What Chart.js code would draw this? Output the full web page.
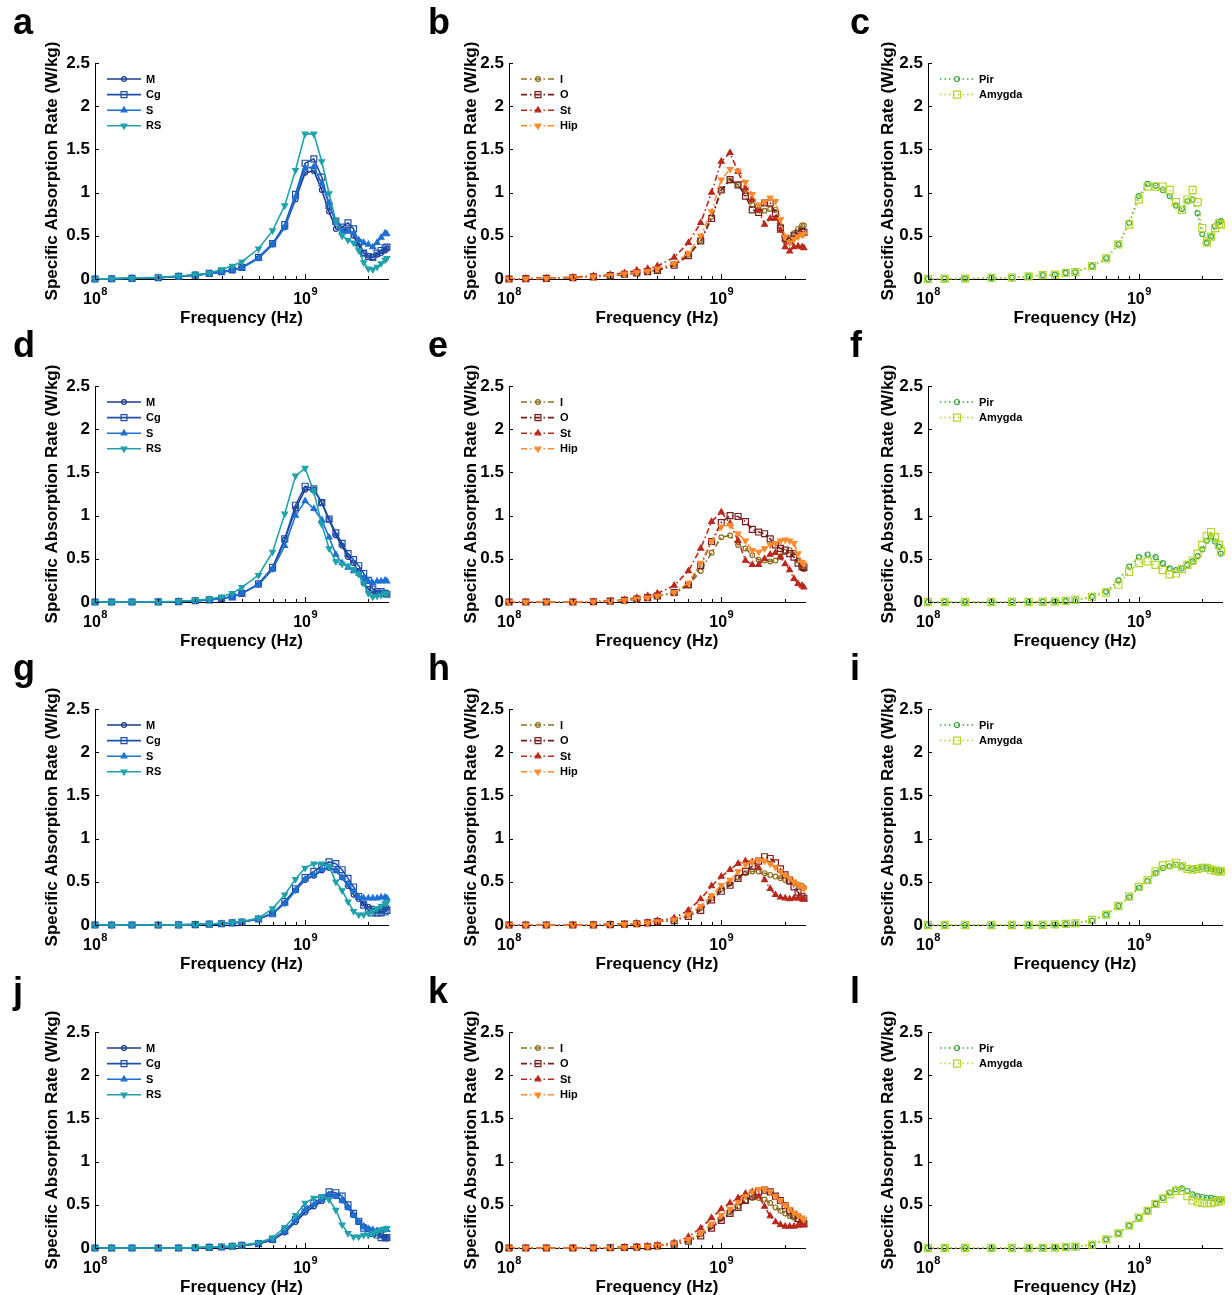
<!DOCTYPE html>
<html><head><meta charset="utf-8">
<script src="https://cdn.jsdelivr.net/npm/chart.js@4.4.0/dist/chart.umd.min.js"></script>
<style>
html,body{margin:0;padding:0;background:#fff;}
body{width:1232px;height:1295px;overflow:hidden;position:relative;}
canvas{position:absolute;}
</style>
</head><body>
<script>
// ---------------- data ----------------
const freqGHz = [0.1,0.12,0.15,0.2,0.25,0.3,0.35,0.4,0.45,0.5,0.6,0.7,0.8,0.9,1.0,1.1,1.2,1.3,1.4,1.5,1.6,1.7,1.8,1.9,2.0,2.1,2.2,2.3,2.4,2.45];
const yTicks = [0,0.5,1,1.5,2,2.5];
const xDecades = [1e8,1e9];
const xMinorTicks = [2e8,3e8,4e8,5e8,6e8,7e8,8e8,9e8,2e9];
const namesA = ['M','Cg','S','RS'];
const namesB = ['I','O','St','Hip'];
const namesC = ['Pir','Amygda'];
const panelLetters = ['a','b','c','d','e','f','g','h','i','j','k','l'];
const yTitle = 'Specific Absorption Rate (W/kg)';
const xTitle = 'Frequency (Hz)';

const a_M  = [0,0.003,0.008,0.015,0.03,0.045,0.06,0.08,0.1,0.13,0.24,0.4,0.6,0.92,1.23,1.25,1.03,0.78,0.58,0.57,0.57,0.5,0.38,0.3,0.27,0.25,0.28,0.3,0.33,0.35];
const a_Cg = [0,0.003,0.008,0.015,0.03,0.045,0.065,0.085,0.105,0.135,0.25,0.41,0.63,0.98,1.34,1.39,1.18,0.85,0.67,0.6,0.65,0.58,0.42,0.3,0.26,0.25,0.3,0.33,0.36,0.37];
const a_S  = [0,0.003,0.008,0.015,0.03,0.045,0.06,0.08,0.1,0.13,0.24,0.4,0.6,0.95,1.28,1.3,1.1,0.88,0.65,0.55,0.55,0.52,0.45,0.42,0.4,0.37,0.42,0.48,0.53,0.52];
const a_RS = [0,0.004,0.01,0.02,0.035,0.05,0.07,0.11,0.15,0.2,0.35,0.56,0.85,1.26,1.68,1.68,1.36,0.99,0.67,0.5,0.45,0.42,0.33,0.19,0.12,0.11,0.14,0.18,0.22,0.24];

const b_I   = [0,0.004,0.008,0.015,0.025,0.04,0.055,0.07,0.085,0.1,0.17,0.28,0.45,0.72,1.03,1.14,1.09,0.99,0.86,0.81,0.79,0.81,0.8,0.61,0.45,0.47,0.53,0.58,0.62,0.62];
const b_O   = [0,0.004,0.008,0.015,0.025,0.04,0.055,0.07,0.085,0.1,0.16,0.27,0.44,0.7,1.03,1.15,1.09,0.96,0.8,0.77,0.88,0.88,0.76,0.59,0.47,0.44,0.5,0.53,0.55,0.54];
const b_St  = [0,0.005,0.01,0.02,0.035,0.05,0.07,0.1,0.12,0.15,0.25,0.42,0.65,1.0,1.36,1.46,1.24,1.05,0.92,0.8,0.63,0.7,0.7,0.56,0.37,0.32,0.37,0.38,0.37,0.36];
const b_Hip = [0,0.004,0.008,0.015,0.025,0.04,0.06,0.075,0.09,0.12,0.18,0.3,0.5,0.78,1.15,1.27,1.25,1.12,0.98,0.86,0.89,0.94,0.9,0.69,0.49,0.42,0.46,0.49,0.51,0.52];

const c_Pir    = [0,0.003,0.005,0.012,0.015,0.03,0.045,0.05,0.07,0.08,0.15,0.24,0.4,0.65,0.96,1.1,1.08,1.03,0.96,0.85,0.81,0.9,0.92,0.76,0.52,0.42,0.49,0.61,0.66,0.67];
const c_Amygda = [0,0.003,0.005,0.012,0.015,0.03,0.045,0.05,0.07,0.08,0.15,0.24,0.4,0.63,0.92,1.07,1.07,1.07,1.03,0.89,0.8,0.92,1.03,0.89,0.59,0.42,0.49,0.59,0.64,0.63];

const d_M  = [0,0,0,0.002,0.005,0.015,0.025,0.04,0.06,0.1,0.2,0.38,0.72,1.08,1.3,1.3,1.15,0.95,0.77,0.65,0.52,0.45,0.35,0.22,0.15,0.1,0.1,0.1,0.1,0.1];
const d_Cg = [0,0,0,0.002,0.005,0.015,0.025,0.04,0.06,0.1,0.21,0.4,0.73,1.12,1.34,1.31,1.15,0.96,0.8,0.68,0.56,0.49,0.42,0.33,0.25,0.15,0.12,0.12,0.1,0.09];
const d_S  = [0,0,0,0.002,0.005,0.015,0.025,0.04,0.06,0.1,0.2,0.38,0.65,1.0,1.17,1.08,0.95,0.75,0.55,0.45,0.4,0.36,0.33,0.28,0.24,0.22,0.24,0.24,0.25,0.24];
const d_RS = [0,0,0,0.003,0.008,0.02,0.035,0.06,0.1,0.17,0.31,0.58,1.02,1.46,1.55,1.28,0.9,0.62,0.47,0.44,0.42,0.38,0.32,0.22,0.1,0.06,0.07,0.08,0.1,0.1];

const e_I   = [0,0,0,0,0.003,0.01,0.02,0.035,0.05,0.07,0.1,0.19,0.36,0.57,0.75,0.77,0.66,0.62,0.54,0.49,0.48,0.47,0.48,0.52,0.58,0.6,0.57,0.48,0.41,0.38];
const e_O   = [0,0,0,0,0.003,0.01,0.02,0.035,0.05,0.07,0.11,0.2,0.42,0.7,0.92,1.0,0.99,0.93,0.84,0.81,0.79,0.73,0.66,0.62,0.6,0.56,0.52,0.45,0.41,0.4];
const e_St  = [0,0,0,0,0.003,0.01,0.025,0.05,0.07,0.1,0.19,0.36,0.62,0.93,1.04,0.91,0.71,0.48,0.43,0.43,0.5,0.55,0.57,0.52,0.44,0.37,0.27,0.21,0.19,0.17];
const e_Hip = [0,0,0,0,0.003,0.01,0.02,0.035,0.05,0.07,0.11,0.22,0.45,0.7,0.87,0.89,0.79,0.71,0.6,0.58,0.62,0.66,0.68,0.71,0.72,0.71,0.68,0.56,0.46,0.44];

const f_Pir    = [0,0,0,0,0,0,0.003,0.005,0.01,0.02,0.06,0.12,0.25,0.41,0.52,0.55,0.52,0.45,0.39,0.37,0.39,0.43,0.47,0.53,0.61,0.71,0.75,0.7,0.64,0.56];
const f_Amygda = [0,0,0,0,0,0,0.003,0.005,0.012,0.025,0.06,0.11,0.2,0.35,0.45,0.47,0.43,0.37,0.32,0.33,0.38,0.43,0.48,0.56,0.66,0.76,0.81,0.75,0.66,0.59];

const g_M  = [0,0,0,0,0.002,0.005,0.01,0.015,0.025,0.035,0.07,0.14,0.25,0.4,0.52,0.57,0.63,0.66,0.63,0.55,0.45,0.35,0.3,0.25,0.21,0.19,0.18,0.18,0.19,0.2];
const g_Cg = [0,0,0,0,0.002,0.005,0.01,0.015,0.025,0.035,0.07,0.13,0.27,0.42,0.55,0.62,0.68,0.73,0.71,0.64,0.54,0.44,0.33,0.23,0.17,0.14,0.14,0.14,0.15,0.17];
const g_S  = [0,0,0,0,0.002,0.005,0.01,0.015,0.025,0.035,0.07,0.13,0.25,0.4,0.53,0.58,0.64,0.67,0.63,0.55,0.47,0.39,0.32,0.31,0.31,0.31,0.31,0.32,0.32,0.31];
const g_RS = [0,0,0,0,0.002,0.006,0.012,0.02,0.03,0.04,0.08,0.19,0.35,0.53,0.66,0.71,0.71,0.68,0.5,0.4,0.27,0.16,0.12,0.12,0.14,0.16,0.19,0.22,0.25,0.26];

const h_I   = [0,0,0,0,0.002,0.005,0.01,0.015,0.025,0.04,0.06,0.12,0.2,0.31,0.42,0.48,0.55,0.6,0.62,0.62,0.6,0.58,0.56,0.54,0.52,0.5,0.49,0.47,0.45,0.43];
const h_O   = [0,0,0,0,0.002,0.005,0.01,0.015,0.025,0.04,0.05,0.1,0.17,0.29,0.39,0.46,0.54,0.62,0.68,0.74,0.79,0.77,0.72,0.65,0.58,0.51,0.44,0.38,0.33,0.31];
const h_St  = [0,0,0,0,0.002,0.005,0.01,0.02,0.03,0.05,0.08,0.17,0.3,0.45,0.56,0.64,0.71,0.74,0.73,0.66,0.52,0.42,0.35,0.32,0.31,0.3,0.31,0.31,0.3,0.3];
const h_Hip = [0,0,0,0,0.002,0.005,0.01,0.015,0.025,0.04,0.06,0.12,0.22,0.34,0.46,0.52,0.62,0.7,0.73,0.75,0.74,0.71,0.67,0.62,0.58,0.54,0.5,0.47,0.44,0.42];

const i_Pir    = [0,0,0,0,0,0,0.002,0.005,0.01,0.02,0.05,0.12,0.22,0.32,0.43,0.51,0.6,0.66,0.68,0.7,0.68,0.66,0.65,0.66,0.67,0.66,0.65,0.64,0.63,0.63];
const i_Amygda = [0,0,0,0,0,0,0.003,0.006,0.012,0.02,0.06,0.12,0.22,0.33,0.44,0.52,0.62,0.69,0.7,0.72,0.68,0.65,0.64,0.65,0.66,0.66,0.64,0.63,0.62,0.62];

const j_M  = [0,0,0,0,0,0.003,0.008,0.012,0.02,0.03,0.05,0.09,0.18,0.3,0.41,0.48,0.54,0.6,0.6,0.55,0.47,0.38,0.3,0.25,0.22,0.2,0.19,0.16,0.12,0.11];
const j_Cg = [0,0,0,0,0,0.003,0.008,0.012,0.02,0.03,0.05,0.1,0.2,0.33,0.45,0.52,0.57,0.65,0.64,0.6,0.5,0.4,0.31,0.23,0.19,0.17,0.15,0.12,0.12,0.12];
const j_S  = [0,0,0,0,0,0.003,0.008,0.012,0.02,0.03,0.05,0.1,0.19,0.32,0.44,0.5,0.56,0.61,0.6,0.55,0.47,0.38,0.3,0.25,0.22,0.21,0.2,0.2,0.21,0.21];
const j_RS = [0,0,0,0,0,0.004,0.01,0.015,0.025,0.035,0.06,0.12,0.24,0.38,0.52,0.58,0.6,0.56,0.44,0.27,0.17,0.13,0.13,0.15,0.15,0.17,0.19,0.21,0.22,0.23];

const k_I   = [0,0,0,0,0,0.003,0.006,0.01,0.015,0.025,0.05,0.09,0.16,0.25,0.34,0.41,0.48,0.55,0.58,0.58,0.56,0.52,0.47,0.43,0.4,0.37,0.35,0.33,0.31,0.3];
const k_O   = [0,0,0,0,0,0.003,0.006,0.01,0.015,0.025,0.045,0.08,0.14,0.23,0.32,0.4,0.47,0.55,0.6,0.65,0.67,0.65,0.6,0.55,0.49,0.43,0.38,0.34,0.3,0.28];
const k_St  = [0,0,0,0,0,0.004,0.008,0.012,0.02,0.03,0.06,0.13,0.23,0.35,0.45,0.52,0.58,0.63,0.65,0.6,0.48,0.37,0.3,0.27,0.25,0.25,0.25,0.26,0.27,0.27];
const k_Hip = [0,0,0,0,0,0.003,0.006,0.01,0.015,0.025,0.05,0.1,0.17,0.28,0.38,0.45,0.53,0.6,0.65,0.68,0.68,0.65,0.6,0.55,0.5,0.45,0.41,0.38,0.35,0.33];

const l_Pir    = [0,0,0,0,0,0,0.002,0.005,0.01,0.015,0.04,0.1,0.17,0.26,0.35,0.43,0.51,0.58,0.64,0.68,0.69,0.66,0.62,0.6,0.59,0.58,0.58,0.57,0.56,0.56];
const l_Amygda = [0,0,0,0,0,0,0.002,0.005,0.01,0.015,0.04,0.1,0.17,0.26,0.35,0.43,0.51,0.57,0.62,0.66,0.66,0.6,0.55,0.53,0.52,0.52,0.52,0.53,0.54,0.55];

// ---------------- styles & layout ----------------
const FONT = '"Liberation Sans", Arial, sans-serif';
const styleGroups = {
  A: { names: namesA, colors: ['#1b3a8e','#1d4fa8','#1e70d4','#1fa2ab'], dash: [], width: 1.6,
       points: [{s:'circle',r:2.4,rot:0,fill:false},{s:'rect',r:4.2,rot:0,fill:false},{s:'triangle',r:3.3,rot:0,fill:true},{s:'triangle',r:3.3,rot:180,fill:true}] },
  B: { names: namesB, colors: ['#8c6e1e','#7a1c1c','#b9281b','#ff8a2c'], dash: [6,3,1.5,3], width: 1.6,
       points: [{s:'circle',r:2.4,rot:0,fill:false},{s:'rect',r:4.2,rot:0,fill:false},{s:'triangle',r:3.3,rot:0,fill:true},{s:'triangle',r:3.3,rot:180,fill:true}] },
  C: { names: namesC, colors: ['#3aa83a','#b5d42c'], dash: [1.5,3], width: 1.5,
       points: [{s:'circle',r:2.5,rot:0,fill:false},{s:'rect',r:5,rot:0,fill:false}] }
};
const panels = [
  {g:'A', series:[a_M,a_Cg,a_S,a_RS]}, {g:'B', series:[b_I,b_O,b_St,b_Hip]}, {g:'C', series:[c_Pir,c_Amygda]},
  {g:'A', series:[d_M,d_Cg,d_S,d_RS]}, {g:'B', series:[e_I,e_O,e_St,e_Hip]}, {g:'C', series:[f_Pir,f_Amygda]},
  {g:'A', series:[g_M,g_Cg,g_S,g_RS]}, {g:'B', series:[h_I,h_O,h_St,h_Hip]}, {g:'C', series:[i_Pir,i_Amygda]},
  {g:'A', series:[j_M,j_Cg,j_S,j_RS]}, {g:'B', series:[k_I,k_O,k_St,k_Hip]}, {g:'C', series:[l_Pir,l_Amygda]}
];
const colX = [0,410,820], colW = [410,410,412];
const rowY = [0,323,646,969];
const CH = 335;
const plotLeft = [95,99,108], plotRight = [388,395,402];
const plotTop = 63, plotBottom = 279;
const yTitleCenter = [52.7,61.7,68.3];
const letterX = [13,18,30];

function drawMarker(ctx, p, x, y, color, lw) {
  ctx.beginPath();
  if (p.s === 'circle') {
    ctx.arc(x, y, p.r, 0, Math.PI*2);
  } else if (p.s === 'rect') {
    const h = p.r*Math.SQRT1_2;
    ctx.rect(x-h, y-h, 2*h, 2*h);
  } else {
    let rad = p.rot*Math.PI/180;
    for (let k=0;k<3;k++) {
      const px = x + Math.sin(rad)*p.r, py = y - Math.cos(rad)*p.r;
      if (k===0) ctx.moveTo(px,py); else ctx.lineTo(px,py);
      rad += 2*Math.PI/3;
    }
    ctx.closePath();
  }
  if (p.fill) { ctx.fillStyle = color; ctx.fill(); }
  ctx.strokeStyle = color; ctx.lineWidth = lw; ctx.setLineDash([]); ctx.stroke();
}

const decor = {
  id: 'decor',
  afterDraw(chart, args, opts) {
    const {ctx, chartArea, scales} = chart;
    const {left, top, bottom} = chartArea;
    const x = scales.x, y = scales.y;
    ctx.save();
    // inward ticks
    ctx.strokeStyle = '#000'; ctx.lineWidth = 1; ctx.setLineDash([]);
    ctx.beginPath();
    yTicks.forEach(v => { const py = Math.round(y.getPixelForValue(v)) + 0.5; ctx.moveTo(left, py); ctx.lineTo(left + 4, py); });
    xMinorTicks.forEach(v => { const px = Math.round(x.getPixelForValue(v)) + 0.5; ctx.moveTo(px, bottom); ctx.lineTo(px, bottom - 3); });
    xDecades.forEach(v => { const px = Math.round(x.getPixelForValue(v)) + 0.5; ctx.moveTo(px, bottom); ctx.lineTo(px, bottom - 5); });
    ctx.stroke();
    // decade labels 10^n
    ctx.fillStyle = '#000'; ctx.textBaseline = 'alphabetic'; ctx.textAlign = 'left';
    xDecades.forEach(v => {
      const px = x.getPixelForValue(v);
      const base = '10', exp = String(Math.round(Math.log10(v)));
      ctx.font = 'bold 16px ' + FONT; const w1 = ctx.measureText(base).width;
      ctx.font = 'bold 11px ' + FONT; const w2 = ctx.measureText(exp).width;
      const sx = px - (w1 + w2) / 2;
      ctx.font = 'bold 16px ' + FONT; ctx.fillText(base, sx, bottom + 25);
      ctx.font = 'bold 11px ' + FONT; ctx.fillText(exp, sx + w1 + 0.5, bottom + 16);
    });
    // panel letter
    ctx.font = 'bold 36px ' + FONT;
    ctx.fillText(opts.letter, opts.lx, 34);
    // legend
    const st = styleGroups[opts.group];
    chart.data.datasets.forEach((ds, i) => {
      const ly = top + 16 + 15.6 * i;
      ctx.beginPath();
      ctx.strokeStyle = st.colors[i]; ctx.lineWidth = st.width; ctx.setLineDash(st.dash);
      ctx.moveTo(left + 12, ly); ctx.lineTo(left + 46, ly); ctx.stroke();
      drawMarker(ctx, st.points[i], left + 29, ly, st.colors[i], 1.2);
      ctx.fillStyle = '#000'; ctx.font = 'bold 11px ' + FONT;
      ctx.textBaseline = 'middle'; ctx.textAlign = 'left';
      ctx.fillText(ds.label, left + 51, ly + 0.5);
    });
    ctx.restore();
  }
};

panels.forEach((p, idx) => {
  const col = idx % 3, row = Math.floor(idx / 3);
  const W = colW[col];
  const cv = document.createElement('canvas');
  cv.width = W; cv.height = CH;
  cv.style.left = colX[col] + 'px'; cv.style.top = rowY[row] + 'px';
  cv.style.width = W + 'px'; cv.style.height = CH + 'px';
  document.body.appendChild(cv);
  const st = styleGroups[p.g];
  const n = p.series.length;
  const datasets = p.series.map((vals, i) => ({
    label: st.names[i],
    data: freqGHz.map((f, k) => ({x: f * 1e9, y: vals[k]})),
    borderColor: st.colors[i],
    backgroundColor: st.colors[i],
    borderWidth: st.width,
    borderDash: st.dash,
    pointStyle: st.points[i].s,
    pointRadius: st.points[i].r,
    pointRotation: st.points[i].rot,
    pointBorderColor: st.colors[i],
    pointBackgroundColor: st.points[i].fill ? st.colors[i] : 'rgba(255,255,255,0)',
    pointBorderWidth: 1.2,
    tension: 0,
    fill: false,
    clip: 8,
    order: n - 1 - i
  }));
  const tickFont = {family: FONT, size: 17, weight: 'bold'};
  new Chart(cv, {
    type: 'line',
    data: {datasets},
    options: {
      responsive: false, animation: false, devicePixelRatio: 1,
      layout: {padding: {left: 0, top: plotTop, right: W - plotRight[col], bottom: 0}},
      plugins: {legend: {display: false}, tooltip: {enabled: false},
                decor: {letter: panelLetters[idx], lx: letterX[col], group: p.g}},
      scales: {
        x: {
          type: 'logarithmic', min: 1e8, max: 2.48e9, position: 'bottom',
          grid: {display: false, drawTicks: false},
          border: {display: true, color: '#000', width: 1},
          ticks: {display: false},
          afterFit: s => { s.height = CH - plotBottom; },
          title: {display: true, text: xTitle, color: '#000', font: tickFont, padding: {top: 0, bottom: 6}}
        },
        y: {
          type: 'linear', min: 0, max: 2.5, position: 'left',
          afterBuildTicks: s => { s.ticks = yTicks.map(v => ({value: v})); },
          grid: {display: false, drawTicks: false},
          border: {display: true, color: '#000', width: 1},
          ticks: {color: '#000', font: tickFont, padding: 5, callback: v => String(v)},
          afterFit: s => { s.width = plotLeft[col]; },
          title: {display: true, text: yTitle, color: '#000', font: tickFont,
                  padding: {top: yTitleCenter[col] - 10.2, bottom: 0}}
        }
      }
    },
    plugins: [decor]
  });
});
</script>
</body></html>
